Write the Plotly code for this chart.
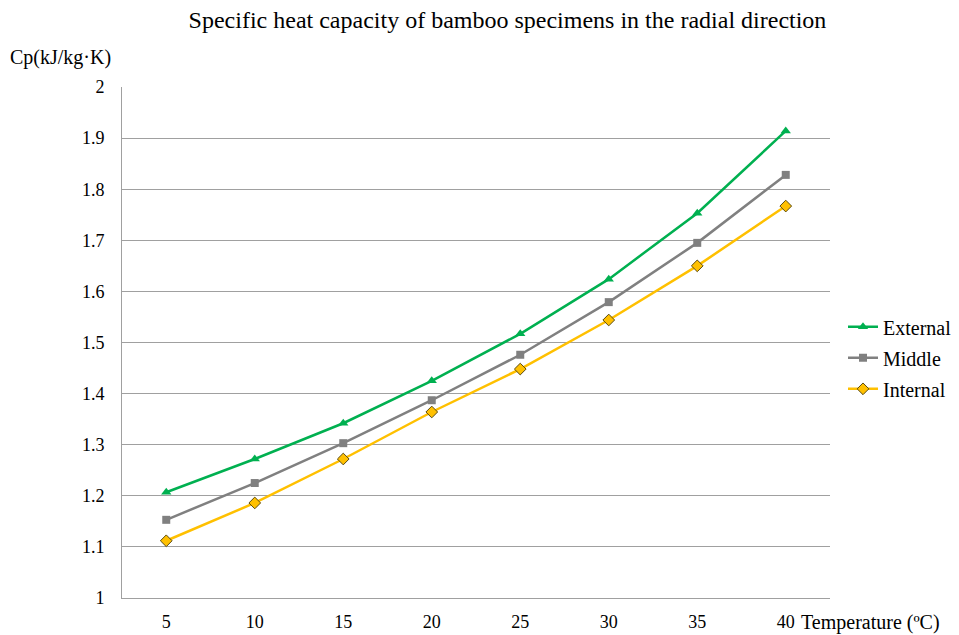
import plotly.graph_objects as go

temperatures = ["5", "10", "15", "20", "25", "30", "35", "40"]
external = [1.207, 1.272, 1.342, 1.425, 1.517, 1.624, 1.753, 1.914]
middle = [1.153, 1.225, 1.303, 1.387, 1.476, 1.579, 1.695, 1.828]
internal = [1.112, 1.186, 1.272, 1.364, 1.448, 1.544, 1.650, 1.767]

FONT = "Liberation Serif, Times New Roman, serif"

fig = go.Figure()
fig.add_trace(go.Scatter(x=temperatures, y=external, name="External", mode="lines+markers",
                         legendgroup="a",
                         line=dict(color="#00B050", width=2.5),
                         marker=dict(symbol="triangle-up", size=9, color="#00B050")))
fig.add_trace(go.Scatter(x=temperatures, y=middle, name="Middle", mode="lines+markers",
                         legendgroup="b",
                         line=dict(color="#808080", width=2.5),
                         marker=dict(symbol="square", size=8, color="#808080")))
fig.add_trace(go.Scatter(x=temperatures, y=internal, name="Internal", mode="lines+markers",
                         legendgroup="c",
                         line=dict(color="#FFC000", width=2.5),
                         marker=dict(symbol="diamond", size=9, color="#FFC000",
                                     line=dict(color="#5a4a10", width=1))))

# the page body adds an 8px offset; size the figure so the page fits the window exactly
W, H = 951, 627
fig.update_layout(
    width=W, height=H,
    paper_bgcolor="white", plot_bgcolor="white",
    margin=dict(l=114, r=129, t=79, b=37, autoexpand=False),
    font=dict(family=FONT, size=18, color="black"),
    title=dict(text="Specific heat capacity of bamboo specimens in the radial direction",
               x=(507.5 - 8) / W, xanchor="center", y=1 - 12 / H, yanchor="middle",
               font=dict(family=FONT, size=24, color="black")),
    showlegend=True,
    legend=dict(x=(843 - 8) / W, xref="container", xanchor="left", y=0.47, yanchor="middle",
                font=dict(family=FONT, size=20, color="black"),
                bgcolor="rgba(0,0,0,0)", borderwidth=0, tracegroupgap=2, itemwidth=30),
    xaxis=dict(type="category", range=[-0.5, 7.5], showgrid=False, automargin=False,
               showline=True, linecolor="#A0A0A0", linewidth=1,
               ticks="", tickfont=dict(family=FONT, size=18), ticklabelstandoff=7),
    yaxis=dict(range=[1, 2], dtick=0.1, tickformat="~g", showgrid=True, automargin=False,
               gridcolor="#A0A0A0", gridwidth=1, zeroline=False,
               showline=True, linecolor="#A0A0A0", linewidth=1,
               ticks="", tickfont=dict(family=FONT, size=18), ticklabelstandoff=13),
)

fig.add_annotation(text="Cp(kJ/kg·K)", xref="paper", yref="paper",
                   x=-0.161, y=1.0, xanchor="left", yanchor="bottom", yshift=16,
                   showarrow=False, font=dict(family=FONT, size=20, color="black"))
fig.add_annotation(text="Temperature (ºC)", xref="paper", yref="paper",
                   x=0.956, y=0, xanchor="left", yanchor="middle", yshift=-24,
                   showarrow=False, font=dict(family=FONT, size=20, color="black"))

fig.write_html("out.html")
